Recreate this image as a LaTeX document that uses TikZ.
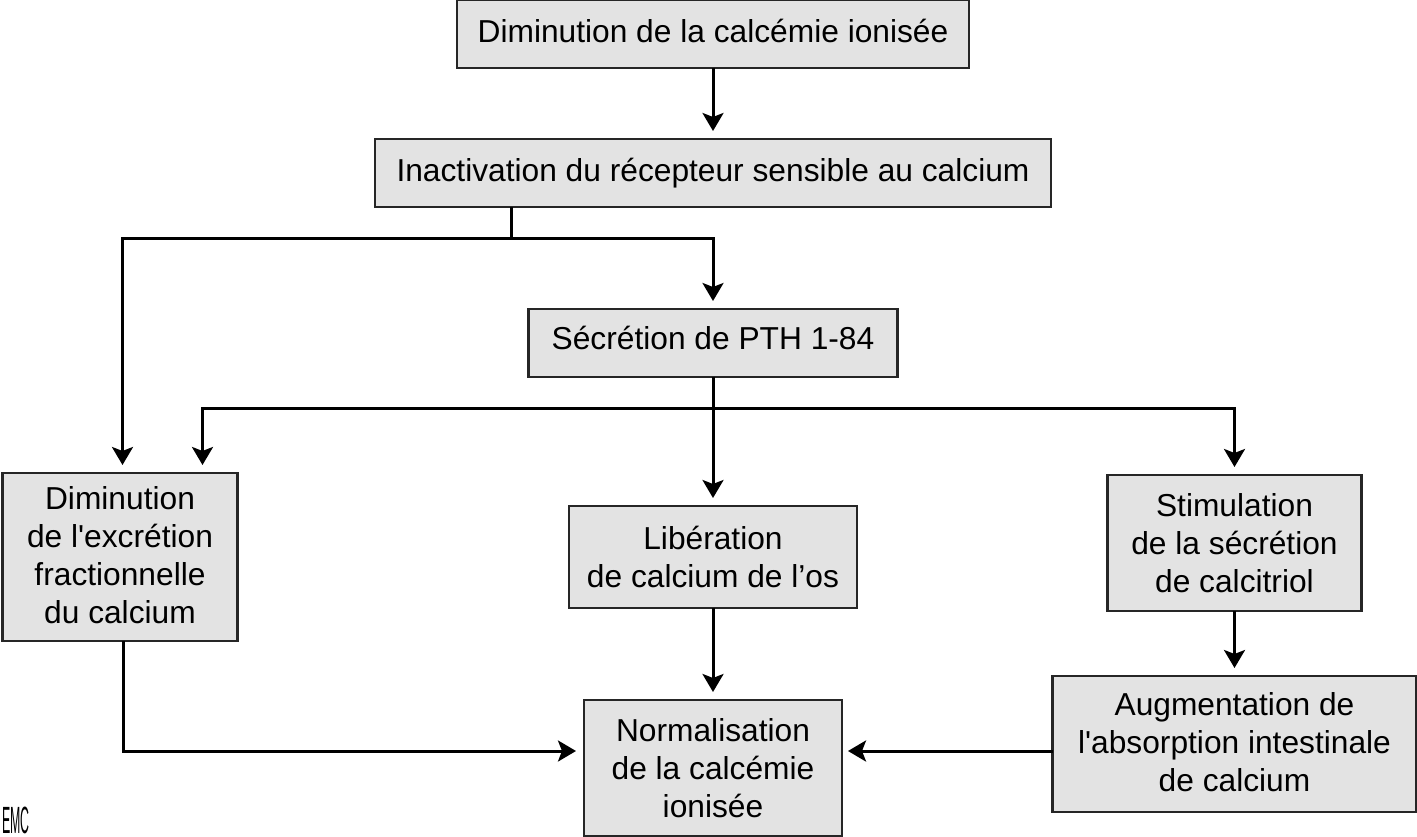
\documentclass[tikz,border=0pt]{standalone}
\usepackage{fontspec}
\usetikzlibrary{arrows.meta,positioning}
\newfontfamily\boxfont{Liberation Sans}
\tikzset{
	etape/.style={rectangle, draw=black!85, line width=0.05cm, fill=black!11, inner sep=0pt, outer sep=0pt, align=center, font=\boxfont\fontsize{18.05}{21.5}\selectfont},
	monte/.style={execute at end node={\rule[-#1]{0pt}{0pt}}},
	fleche/.style={line width=0.06cm, black, -{Stealth[length=0.36cm, width=0.42cm, inset=0.08cm]}, shorten >=0.16cm},
	trait/.style={line width=0.06cm, black}
}
\begin{document}
\begin{tikzpicture}
	\useasboundingbox (0,0) rectangle (28.34,-16.74);
	\node[etape, monte=3.4pt, minimum width=10.24cm, minimum height=1.36cm] (baisse) at (14.26,-0.68) {Diminution de la calcémie ionisée};
	\node[etape, minimum width=13.52cm, minimum height=1.36cm, below=1.42cm of baisse] (recepteur) {Inactivation du récepteur sensible au calcium};
	\node[etape, monte=5.6pt, minimum width=7.38cm, minimum height=1.36cm, below=2.04cm of recepteur] (pth) {Sécrétion de PTH 1-84};
	\node[etape, minimum width=5.76cm, minimum height=2.04cm, below=2.58cm of pth] (os) {Libération\\ de calcium de l’os};
	\node[etape, monte=2.3pt, minimum width=4.7cm, minimum height=3.36cm, below left=1.92cm and 5.82cm of pth] (excretion) {Diminution\\ de l'excrétion\\ fractionnelle\\ du calcium};
	\node[etape, minimum width=5.08cm, minimum height=2.72cm, below right=1.96cm and 4.2cm of pth] (calcitriol) {Stimulation\\ de la sécrétion\\ de calcitriol};
	\node[etape, monte=2.3pt, minimum width=7.28cm, minimum height=2.72cm, below=1.3cm of calcitriol] (absorption) {Augmentation de\\ l'absorption intestinale\\ de calcium};
	\node[etape, minimum width=5.16cm, minimum height=2.72cm, below=1.84cm of os] (norme) {Normalisation\\ de la calcémie\\ ionisée};
	\node[font=\boxfont\fontsize{16}{16}\selectfont, xscale=0.44, yscale=1.35, anchor=south west, inner sep=0pt] (emc) at (0.04,-16.68) {EMC};
	
	\coordinate (depart) at (10.22,-4.76);
	\coordinate (bus) at (pth.south |- 0,-8.16);
	\coordinate[yshift=0.34cm] (entree) at (norme.west);
	
	\draw[fleche] (baisse) -- (recepteur);
	\draw[trait] (recepteur.south -| depart) -- (depart);
	\draw[fleche] (depart) -| ([xshift=0.05cm]excretion.north);
	\draw[fleche] (depart) -| (pth);
	\draw[fleche] (pth) -- (os);
	\draw[fleche] (bus) -| ([xshift=1.65cm]excretion.north);
	\draw[fleche] (bus) -| (calcitriol);
	\draw[fleche] (os) -- (norme);
	\draw[fleche] (calcitriol) -- (absorption);
	\draw[fleche] ([xshift=0.07cm]excretion.south) |- (entree);
	\draw[fleche, shorten >=0.12cm] (absorption.west |- entree) -- (norme.east |- entree);
\end{tikzpicture}
\end{document}
